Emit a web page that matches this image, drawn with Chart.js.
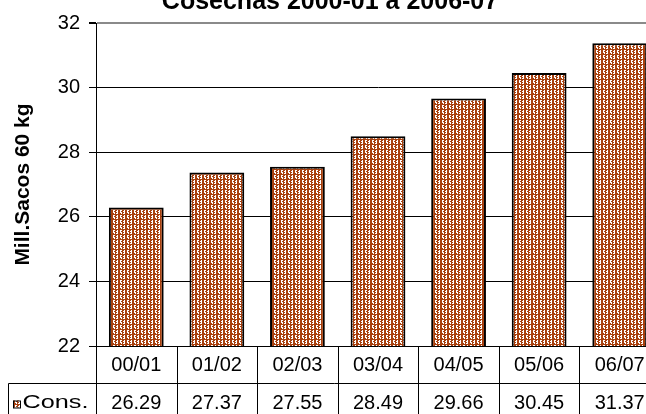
<!DOCTYPE html>
<html>
<head>
<meta charset="utf-8">
<title>Cosechas 2000-01 a 2006-07</title>
<script src="https://cdn.jsdelivr.net/npm/chart.js@4/dist/chart.umd.min.js"></script>
<style>
  html, body { margin: 0; padding: 0; background: #fff; }
  #wrap { width: 646px; height: 414px; overflow: hidden; position: relative; }
  #chart { position: absolute; left: 0; top: -15px; }
</style>
</head>
<body>
<div id="wrap"><canvas id="chart" width="660" height="429"></canvas></div>
<script>
// data
const seasons = ["00/01", "01/02", "02/03", "03/04", "04/05", "05/06", "06/07"];
const consumo = [26.29, 27.37, 27.55, 28.49, 29.66, 30.45, 31.37];
const yTicks = [22, 24, 26, 28, 30, 32];
const seriesName = "Cons.";
const chartTitle = "Cosechas 2000-01 a 2006-07";
const yTitle = "Mill.Sacos 60 kg";

Chart.defaults.font.family = "'Liberation Sans', Arial, sans-serif";
Chart.defaults.color = "#000";

// Excel-like weave fill for the bars
const weave = [
  "BWWBBWB",
  "BWBBWWB",
  "BWWBBWB",
  "BBWBWWB",
  "BBBBBBB"
];
function makePattern(ctx) {
  const tile = document.createElement("canvas");
  tile.width = weave[0].length;
  tile.height = weave.length;
  const t = tile.getContext("2d");
  weave.forEach((row, y) => {
    [...row].forEach((c, x) => {
      t.fillStyle = c === "B" ? "#a8400e" : "#ffffff";
      t.fillRect(x, y, 1, 1);
    });
  });
  return ctx.createPattern(tile, "repeat");
}

const canvas = document.getElementById("chart");
const ctx = canvas.getContext("2d");
const barFill = makePattern(ctx);

// data table under the plot (category row comes from the x axis labels)
const dataTable = {
  id: "dataTable",
  afterDraw(chart) {
    const { ctx, chartArea: area, scales: { x } } = chart;
    const rowH = 37;
    const row2 = Math.round(area.bottom + rowH) + 0.5;
    const bottom = chart.height;
    const step = x.width / seasons.length;
    ctx.save();
    ctx.strokeStyle = "#000";
    ctx.lineWidth = 1;
    ctx.beginPath();
    for (let i = 0; i <= seasons.length; i++) {
      const px = Math.round(area.left + i * step) + 0.5;
      ctx.moveTo(px, area.bottom);
      ctx.lineTo(px, bottom);
    }
    ctx.moveTo(8.5, row2);
    ctx.lineTo(chart.width, row2);
    ctx.moveTo(8.5, row2);
    ctx.lineTo(8.5, bottom);
    ctx.stroke();

    // values row
    ctx.fillStyle = "#000";
    ctx.font = "20px 'Liberation Sans', Arial, sans-serif";
    ctx.textAlign = "center";
    ctx.textBaseline = "middle";
    consumo.forEach((v, i) => {
      ctx.fillText(v.toFixed(2), x.getPixelForValue(i), row2 + 19.5);
    });

    // legend key + series name
    ctx.fillStyle = barFill;
    ctx.fillRect(13, row2 + 17, 7, 7);
    ctx.strokeRect(13.5, row2 + 17.5, 7, 7);
    ctx.fillStyle = "#000";
    ctx.font = "18px 'Liberation Sans', Arial, sans-serif";
    ctx.textAlign = "left";
    const w = ctx.measureText(seriesName).width;
    ctx.translate(22.5, row2 + 20);
    ctx.scale(66 / w, 1);
    ctx.fillText(seriesName, 0, 0);
    ctx.restore();
  }
};

new Chart(ctx, {
  type: "bar",
  data: {
    labels: seasons,
    datasets: [{
      label: seriesName,
      data: consumo,
      backgroundColor: barFill,
      borderColor: "#000",
      borderWidth: 2,
      barPercentage: 0.68,
      categoryPercentage: 1
    }]
  },
  options: {
    responsive: false,
    devicePixelRatio: 1,
    animation: false,
    layout: { padding: 0 },
    plugins: {
      legend: { display: false },
      tooltip: { enabled: false },
      title: {
        display: true,
        text: chartTitle,
        color: "#000",
        font: { size: 25, weight: "bold", lineHeight: 1.2 },
        padding: { top: 2, bottom: 6 }
      }
    },
    scales: {
      x: {
        grid: { display: false, drawTicks: false },
        border: { display: false },
        ticks: { font: { size: 20 }, color: "#000", padding: 7, maxRotation: 0, autoSkip: false },
        afterFit: s => { s.height = 68; }
      },
      y: {
        min: yTicks[0],
        max: yTicks[yTicks.length - 1],
        ticks: { stepSize: yTicks[1] - yTicks[0], font: { size: 20 }, color: "#000", padding: 9 },
        grid: {
          color: c => c.tick.value === yTicks[yTicks.length - 1] ? "#8a8a8a" : "#000",
          lineWidth: c => c.tick.value === yTicks[yTicks.length - 1] ? 2 : 1,
          tickLength: 7,
          tickColor: "#000"
        },
        border: { color: "#000", width: 1 },
        title: {
          display: true,
          text: yTitle,
          color: "#000",
          font: { size: 21, weight: "bold" },
          padding: { top: 11, bottom: 0 }
        },
        afterFit: s => { s.width = 96; }
      }
    }
  },
  plugins: [dataTable]
});
</script>
</body>
</html>
